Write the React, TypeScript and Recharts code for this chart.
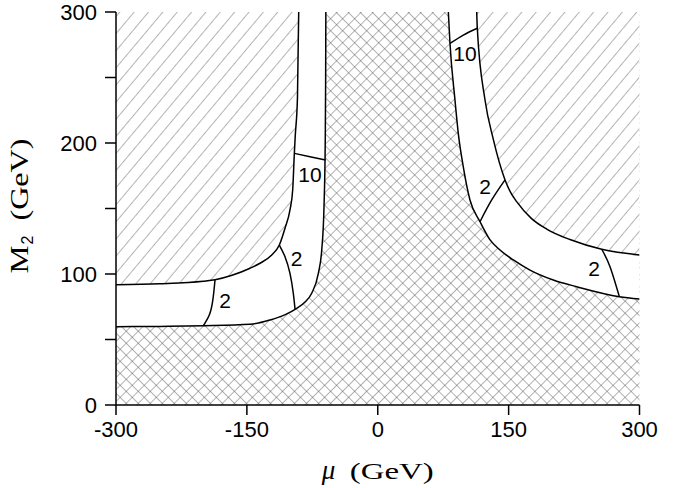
import React from 'react';
import { ComposedChart, Area, Line, Scatter, XAxis, YAxis, CartesianGrid, Label } from 'recharts';

const xTicks = [-300, -150, 0, 150, 300];
const yTicks = [0, 50, 100, 150, 200, 250, 300];
const yLabelTicks = [0, 100, 200, 300];

// boundary of the cross-hatched region, left branch
const leftLowerEdge = [
  { mu: -300, m2: 59.8 }, { mu: -250, m2: 60.0 }, { mu: -200, m2: 60.5 }, { mu: -146.4, m2: 61.6 },
  { mu: -123.5, m2: 64.9 }, { mu: -106, m2: 69 }, { mu: -92.9, m2: 73.8 }, { mu: -83, m2: 78.8 },
  { mu: -75.7, m2: 85.3 }, { mu: -68.1, m2: 100.5 }, { mu: -64.2, m2: 118.3 }, { mu: -61.6, m2: 151.4 },
  { mu: -60.2, m2: 200 }, { mu: -59.7, m2: 250 }, { mu: -59.5, m2: 300 },
];
// boundary of the hatched region, upper left
const leftUpperEdge = [
  { mu: -300, m2: 91.8 }, { mu: -250, m2: 92.6 }, { mu: -200, m2: 94.5 }, { mu: -186.5, m2: 95.6 },
  { mu: -167, m2: 99 }, { mu: -146.4, m2: 104.4 }, { mu: -134.9, m2: 108.2 }, { mu: -121.5, m2: 114.5 },
  { mu: -112.8, m2: 122.1 }, { mu: -106.3, m2: 134.9 }, { mu: -100.6, m2: 148.9 }, { mu: -97.5, m2: 164.1 },
  { mu: -95.6, m2: 192.1 }, { mu: -94.6, m2: 205 }, { mu: -92, m2: 235 }, { mu: -90.6, m2: 300 },
];
// boundary of the cross-hatched region, right branch
const rightInnerEdge = [
  { mu: 80.9, m2: 300 }, { mu: 82.8, m2: 276 }, { mu: 88.5, m2: 232.8 }, { mu: 92.3, m2: 207.4 },
  { mu: 98, m2: 182 }, { mu: 105.7, m2: 156.5 }, { mu: 117.2, m2: 139.9 }, { mu: 128.7, m2: 126 },
  { mu: 140.1, m2: 118.3 }, { mu: 155.4, m2: 110.7 }, { mu: 174.5, m2: 103 }, { mu: 201.2, m2: 95.4 },
  { mu: 228, m2: 90.3 }, { mu: 276.9, m2: 82.7 }, { mu: 300, m2: 80.9 },
];
// boundary of the hatched region, upper right
const rightOuterEdge = [
  { mu: 113.4, m2: 300 }, { mu: 114.1, m2: 287.6 }, { mu: 122.9, m2: 233 }, { mu: 132.4, m2: 203 },
  { mu: 139, m2: 186 }, { mu: 145.9, m2: 171.8 }, { mu: 152.1, m2: 162.5 }, { mu: 159.2, m2: 155.2 },
  { mu: 176, m2: 142.5 }, { mu: 193.6, m2: 134.3 }, { mu: 220.3, m2: 126.3 }, { mu: 256.7, m2: 118.9 },
  { mu: 300, m2: 114.5 },
];

// contour lines
const contourL2a = [{ mu: -186.5, m2: 95.6 }, { mu: -188.5, m2: 82.7 }, { mu: -192.3, m2: 70 }, { mu: -199.9, m2: 60.5 }];
const contourL2b = [{ mu: -112.8, m2: 122.1 }, { mu: -106.3, m2: 113.2 }, { mu: -100.6, m2: 100.5 }, { mu: -96.8, m2: 85.3 }, { mu: -94.8, m2: 73.2 }];
const contourL10 = [{ mu: -95.6, m2: 192.1 }, { mu: -77.7, m2: 189.5 }, { mu: -59.9, m2: 187 }];
const contourR10 = [{ mu: 82.8, m2: 276 }, { mu: 98.1, m2: 282.4 }, { mu: 114.1, m2: 287.6 }];
const contourR2a = [{ mu: 145.9, m2: 171.8 }, { mu: 130.6, m2: 156.5 }, { mu: 117.2, m2: 139.9 }];
const contourR2b = [{ mu: 256.7, m2: 118.9 }, { mu: 266.2, m2: 105.6 }, { mu: 276.9, m2: 82.7 }];
const contours = [contourL2a, contourL2b, contourL10, contourR10, contourR2a, contourR2b];

const contourLabels = [
  { mu: -175, m2: 79.6, text: '2' },
  { mu: -92.9, m2: 112, text: '2' },
  { mu: -77.7, m2: 176.3, text: '10' },
  { mu: 100, m2: 268.5, text: '10' },
  { mu: 122.9, m2: 166.6, text: '2' },
  { mu: 247.9, m2: 104.3, text: '2' },
];

const SANS = '"Liberation Sans", Arial, sans-serif';
const SERIF = '"Liberation Serif", "Times New Roman", serif';

const YTick = (props: any) => {
  const { x, y, payload } = props;
  if (!yLabelTicks.includes(payload.value)) return <g />;
  return (
    <text x={x} y={y} textAnchor="end" dominantBaseline="central" fontFamily={SANS} fontSize={22} fill="#000">
      {payload.value}
    </text>
  );
};

const XTitle = (props: any) => {
  const vb = props.viewBox || { x: 116, y: 405, width: 524, height: 83 };
  const cx = vb.x + vb.width / 2;
  const base = vb.y + 74;
  return (
    <g>
      <text x={cx - 56} y={base} fontFamily={SERIF} fontStyle="italic" fontSize={27} fill="#000">μ</text>
      <text x={cx - 28} y={base} fontFamily={SERIF} fontSize={24} fill="#000" textLength={84} lengthAdjust="spacingAndGlyphs">(GeV)</text>
    </g>
  );
};

const YTitle = (props: any) => {
  const vb = props.viewBox || { x: 0, y: 12, width: 116, height: 393 };
  const bx = vb.x + 28;
  const cy = vb.y + vb.height / 2 - 3;
  return (
    <g transform={`translate(${bx},${cy}) rotate(-90)`}>
      <text x={-68} y={0} fontFamily={SERIF} fontSize={26} fill="#000" textLength={28} lengthAdjust="spacingAndGlyphs">M</text>
      <text x={-39} y={5} fontFamily={SANS} fontSize={16} fill="#000">2</text>
      <text x={-15} y={0} fontFamily={SERIF} fontSize={25} fill="#000" textLength={82} lengthAdjust="spacingAndGlyphs">(GeV)</text>
    </g>
  );
};

const LabelShape = (props: any) => {
  const { cx, cy, payload } = props;
  return (
    <text x={cx} y={cy} textAnchor="middle" dominantBaseline="central" fontFamily={SANS} fontSize={21} fill="#000">
      {payload.text}
    </text>
  );
};

export default function App() {
  return (
    <div style={{ position: 'absolute', left: 0, top: 0, width: 684, height: 488, background: '#fff' }}>
      <svg width={0} height={0} style={{ position: 'absolute' }}>
        <defs>
          <pattern id="diagHatch" patternUnits="userSpaceOnUse" width={11} height={11} patternTransform="rotate(40)">
            <rect width={11} height={11} fill="#fff" />
            <line x1={0} y1={0} x2={0} y2={11} stroke="#6a6a6a" strokeWidth={1} />
          </pattern>
          <pattern id="crossHatch" patternUnits="userSpaceOnUse" width={8.5} height={8.5} patternTransform="rotate(45)">
            <rect width={8.5} height={8.5} fill="#fff" />
            <line x1={0} y1={0} x2={0} y2={8.5} stroke="#555" strokeWidth={0.9} />
            <line x1={0} y1={0} x2={8.5} y2={0} stroke="#555" strokeWidth={0.9} />
          </pattern>
        </defs>
      </svg>
      <ComposedChart width={684} height={488} margin={{ top: 12, right: 44.5, left: 0, bottom: 0 }}>
        <CartesianGrid horizontal={false} vertical={false} fill="url(#crossHatch)" fillOpacity={1} />
        <XAxis
          xAxisId={0}
          dataKey="mu"
          type="number"
          domain={[-300, 300]}
          allowDataOverflow
          ticks={xTicks}
          height={83}
          tickSize={10}
          tickMargin={6}
          axisLine={{ stroke: '#000', strokeWidth: 1.5 }}
          tickLine={{ stroke: '#000', strokeWidth: 1.5 }}
          tick={{ fontSize: 22, fill: '#000', fontFamily: SANS }}
          interval={0}
        >
          <Label content={<XTitle />} />
        </XAxis>
        <XAxis xAxisId="top" orientation="top" dataKey="mu" type="number" domain={[-300, 300]} allowDataOverflow height={0} tick={false} tickLine={false} axisLine={{ stroke: '#000', strokeWidth: 1.5 }} />
        <YAxis
          yAxisId={0}
          type="number"
          domain={[0, 300]}
          allowDataOverflow
          ticks={yTicks}
          width={116}
          tickSize={11}
          tickMargin={8}
          axisLine={{ stroke: '#000', strokeWidth: 1.5 }}
          tickLine={{ stroke: '#000', strokeWidth: 1.5 }}
          tick={<YTick />}
          interval={0}
        >
          <Label content={<YTitle />} />
        </YAxis>
        <YAxis yAxisId="right" orientation="right" type="number" domain={[0, 300]} allowDataOverflow width={0} tick={false} tickLine={false} axisLine={{ stroke: '#000', strokeWidth: 1.5 }} />

        <Area data={leftLowerEdge} dataKey="m2" type="monotone" baseValue="dataMax" fill="#fff" fillOpacity={1} stroke="#000" strokeWidth={1.5} dot={false} activeDot={false} isAnimationActive={false} />
        <Area data={leftUpperEdge} dataKey="m2" type="monotone" baseValue="dataMax" fill="url(#diagHatch)" fillOpacity={1} stroke="#000" strokeWidth={1.5} dot={false} activeDot={false} isAnimationActive={false} />
        <Area data={rightInnerEdge} dataKey="m2" type="monotone" baseValue="dataMax" fill="#fff" fillOpacity={1} stroke="#000" strokeWidth={1.5} dot={false} activeDot={false} isAnimationActive={false} />
        <Area data={rightOuterEdge} dataKey="m2" type="monotone" baseValue="dataMax" fill="url(#diagHatch)" fillOpacity={1} stroke="#000" strokeWidth={1.5} dot={false} activeDot={false} isAnimationActive={false} />

        {contours.map((c, i) => (
          <Line key={i} data={c} dataKey="m2" type="natural" stroke="#000" strokeWidth={1.5} dot={false} activeDot={false} isAnimationActive={false} />
        ))}
        <Scatter data={contourLabels} dataKey="m2" shape={<LabelShape />} isAnimationActive={false} />
      </ComposedChart>
    </div>
  );
}
